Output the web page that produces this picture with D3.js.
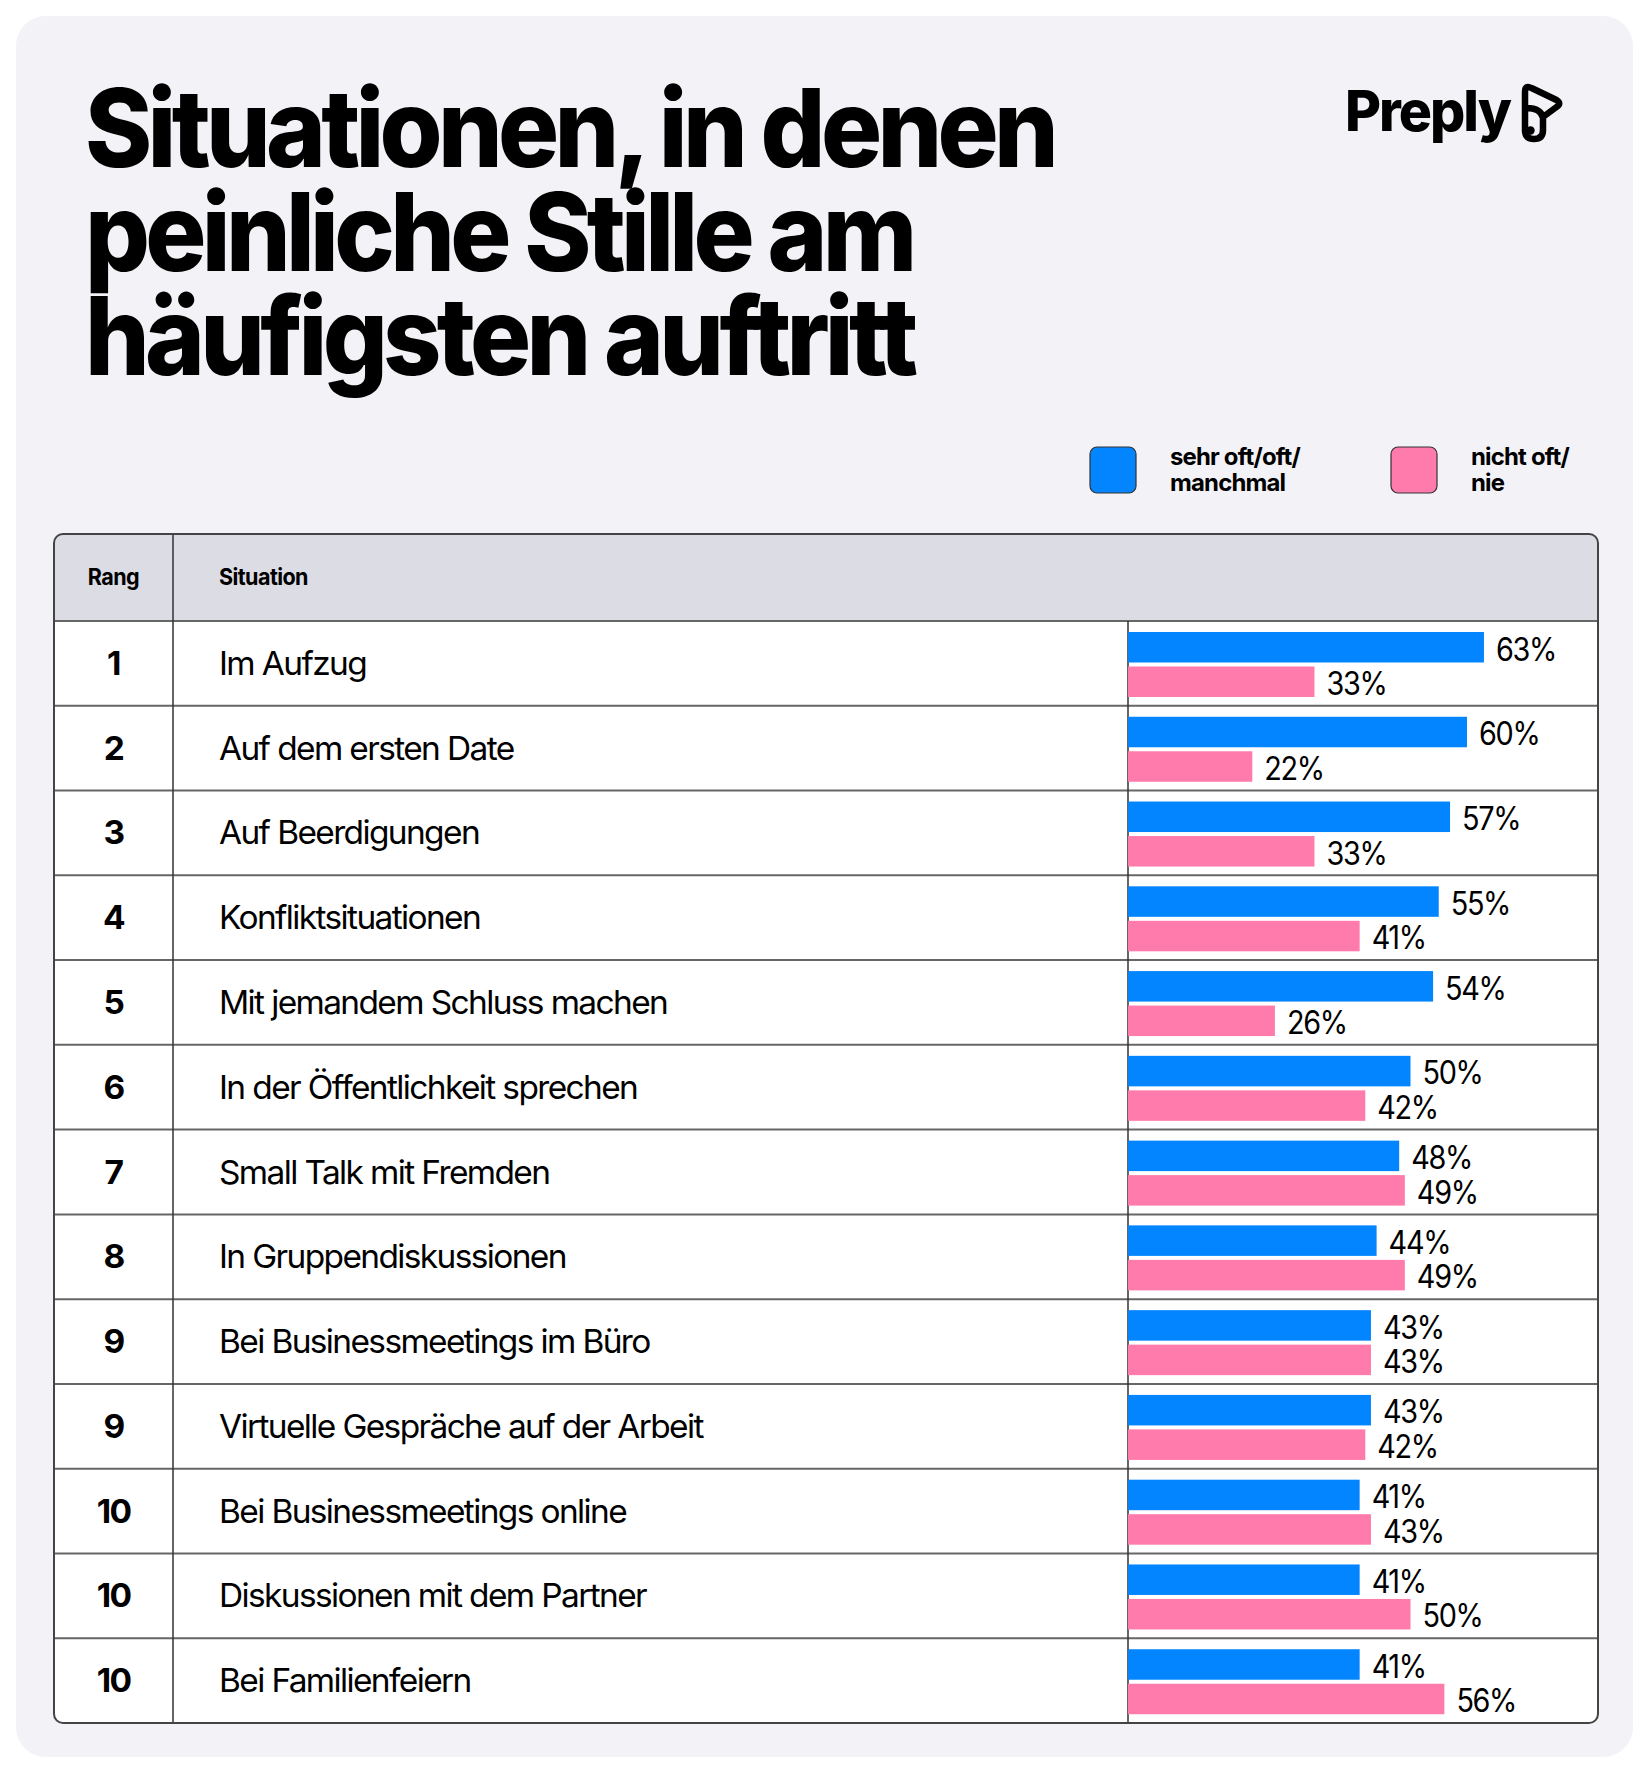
<!DOCTYPE html>
<html><head><meta charset="utf-8">
<script src="https://cdn.jsdelivr.net/npm/d3@7"></script>
<style>body{margin:0;background:#fff} svg{display:block}</style>
</head><body><svg id="chart" width="1650" height="1774"></svg>
<script>
// ---- data ----
const titleLines = ["Situationen, in denen", "peinliche Stille am", "häufigsten auftritt"];
const brand = "Preply";
const headerLabels = ["Rang", "Situation"];
const ranks = ["1", "2", "3", "4", "5", "6", "7", "8", "9", "9", "10", "10", "10"];
const situations = [
  "Im Aufzug", "Auf dem ersten Date", "Auf Beerdigungen", "Konfliktsituationen",
  "Mit jemandem Schluss machen", "In der Öffentlichkeit sprechen", "Small Talk mit Fremden",
  "In Gruppendiskussionen", "Bei Businessmeetings im Büro", "Virtuelle Gespräche auf der Arbeit",
  "Bei Businessmeetings online", "Diskussionen mit dem Partner", "Bei Familienfeiern"
];
const oftenValues = [63, 60, 57, 55, 54, 50, 48, 44, 43, 43, 41, 41, 41];
const notOftenValues = [33, 22, 33, 41, 26, 42, 49, 49, 43, 42, 43, 50, 56];
const seriesNames = [["sehr oft/oft/", "manchmal"], ["nicht oft/", "nie"]];
const seriesColors = ["#0285FF", "#FF7BAC"];

function draw() {
  const svg = d3.select("#chart");
  const FONT = "Inter, 'Noto Sans', sans-serif";

  function measure(str, size, weight, ls) {
    const t = svg.append("text").attr("font-family", FONT).attr("font-size", size)
      .attr("font-weight", weight).attr("letter-spacing", ls || 0).text(str);
    const w = t.node().getComputedTextLength();
    t.remove();
    return w;
  }
  function stext(g, str, x, y, size, weight, sx, anchor, ls) {
    return g.append("text")
      .attr("transform", `translate(${x},${y}) scale(${sx},1)`)
      .attr("font-family", FONT).attr("font-size", size).attr("font-weight", weight)
      .attr("letter-spacing", ls || 0)
      .attr("text-anchor", anchor || "start").attr("fill", "#000").text(str);
  }

  // card
  svg.append("rect").attr("x", 16).attr("y", 16).attr("width", 1617).attr("height", 1741)
    .attr("rx", 30).attr("fill", "#F2F2F7");

  // title
  const titleSize = 108, titleLs = -5;
  const titleSx = 969 / measure(titleLines[0], titleSize, 800, titleLs);
  const titleY = d3.scalePoint().domain(d3.range(titleLines.length)).range([167, 375]);
  titleLines.forEach((l, i) => {
    stext(svg, l, 85, titleY(i), titleSize, 800, titleSx, "start", titleLs);
  });

  // logo
  const logoLs = -2;
  const logoSx = 165 / measure(brand, 56, 800, logoLs);
  stext(svg, brand, 1345, 131, 56, 800, logoSx, "start", logoLs);
  svg.append("path")
    .attr("d", "M1525,131 L1525,92 Q1525,84.5 1531.5,88 L1556.5,100 Q1562,103.5 1556.5,107 L1543,117 L1543,130 Q1543,139 1534,139 Q1525,139 1525,130 M1525,108 Q1541,107.5 1543,118")
    .attr("fill", "none").attr("stroke", "#000").attr("stroke-width", 6.5)
    .attr("stroke-linejoin", "round").attr("stroke-linecap", "round");
  svg.append("circle").attr("cx", 1530.5).attr("cy", 130.5).attr("r", 4.2).attr("fill", "#000");

  // legend
  const legLs = -0.8;
  const legSx = 130 / measure(seriesNames[0][0], 24, 700, legLs);
  const legX = [1090, 1391];
  seriesNames.forEach((lines, i) => {
    svg.append("rect").attr("x", legX[i]).attr("y", 447).attr("width", 46).attr("height", 46)
      .attr("rx", 7).attr("fill", seriesColors[i]).attr("stroke", "#333").attr("stroke-width", 1.2);
    lines.forEach((l, j) => stext(svg, l, legX[i] + 80, 465 + j * 26, 24, 700, legSx, "start", legLs));
  });

  // table geometry
  const tX = 54, tY = 534, tW = 1544, tH = 1189, headH = 87;
  const colRank = 173, colBar = 1128;
  const y = d3.scaleBand().domain(d3.range(situations.length)).range([tY + headH, tY + tH]);
  const x = d3.scaleLinear().domain([0, 100]).range([colBar, colBar + 565]);

  const defs = svg.append("defs");
  defs.append("clipPath").attr("id", "tclip").append("rect")
    .attr("x", tX).attr("y", tY).attr("width", tW).attr("height", tH).attr("rx", 9);
  const tg = svg.append("g").attr("clip-path", "url(#tclip)");
  tg.append("rect").attr("x", tX).attr("y", tY).attr("width", tW).attr("height", tH).attr("fill", "#fff");
  tg.append("rect").attr("x", tX).attr("y", tY).attr("width", tW).attr("height", headH).attr("fill", "#DCDCE5");

  // header text
  const hdLs = -0.6;
  const hdSx = 89 / measure(headerLabels[1], 23, 700, hdLs);
  stext(svg, headerLabels[0], (tX + colRank) / 2, 585, 23, 700, hdSx, "middle", hdLs);
  stext(svg, headerLabels[1], 219, 585, 23, 700, hdSx, "start", hdLs);

  // grid lines
  const lines = svg.append("g");
  d3.range(situations.length).forEach(i => {
    lines.append("line").attr("x1", tX).attr("x2", tX + tW)
      .attr("y1", y(i)).attr("y2", y(i)).attr("stroke", "#666").attr("stroke-width", 2);
  });
  lines.append("line").attr("x1", colRank).attr("x2", colRank).attr("y1", tY).attr("y2", tY + tH)
    .attr("stroke", "#333").attr("stroke-width", 1.5);
  lines.append("line").attr("x1", colBar).attr("x2", colBar).attr("y1", tY + headH).attr("y2", tY + tH)
    .attr("stroke", "#333").attr("stroke-width", 1.5);

  // row texts
  const rowLs = -1.6, rowSize = 33;
  const sitSx = 484 / measure(situations[9], rowSize, 400, rowLs);
  const rows = svg.append("g");
  situations.forEach((s, i) => {
    const cy = y(i) + y.bandwidth() / 2 + 11.5;
    stext(rows, ranks[i], (tX + colRank) / 2, cy, rowSize, 700, sitSx, "middle", rowLs);
    stext(rows, s, 219, cy, rowSize, 400, sitSx, "start", rowLs);
  });

  // bars
  const series = [oftenValues, notOftenValues];
  const barOff = [11, 45.5], barH = 30.5;
  const lblLs = -1.5;
  const lblSx = 60 / measure("63%", 32, 400, lblLs);
  series.forEach((vals, k) => {
    const g = svg.append("g");
    g.selectAll("rect").data(vals).join("rect")
      .attr("x", x(0)).attr("y", (d, i) => y(i) + barOff[k])
      .attr("width", d => x(d) - x(0)).attr("height", barH)
      .attr("fill", seriesColors[k]);
    vals.forEach((v, i) => {
      stext(g, v + "%", x(v) + 12, y(i) + barOff[k] + barH - 2, 32, 400, lblSx, "start", lblLs);
    });
  });

  // outer border
  svg.append("rect").attr("x", tX).attr("y", tY).attr("width", tW).attr("height", tH)
    .attr("rx", 9).attr("fill", "none").attr("stroke", "#444").attr("stroke-width", 2);
}
if (document.fonts && document.fonts.ready) document.fonts.ready.then(draw); else draw();
</script></body></html>
